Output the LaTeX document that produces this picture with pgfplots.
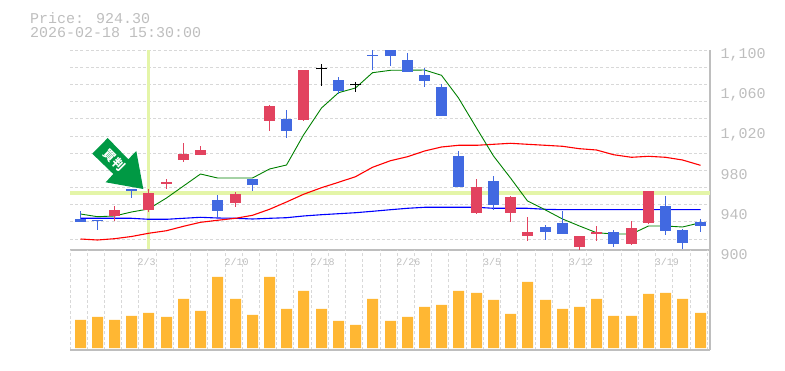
\documentclass[border=0pt]{standalone}
\usepackage{pgfplots}
\usepackage{pgfplotstable}
\usepackage{fontspec}
\pgfplotsset{compat=1.18}
\setmainfont{Liberation Mono}
\newfontfamily\cjk{Noto Sans CJK JP}
\definecolor{gridc}{HTML}{D8D8D8}
\definecolor{framec}{HTML}{BEBEBE}
\definecolor{txtc}{HTML}{BEBEBE}
\definecolor{upc}{HTML}{E2435F}
\definecolor{downc}{HTML}{4169E1}
\definecolor{hilite}{HTML}{E4F5A8}
\definecolor{volc}{HTML}{FFB733}
\definecolor{arrowc}{HTML}{009944}
\pgfplotstableread{
x bh bl wh wl
114.5 940 934 944.3 929.3
148.5 957 940 961 938
166.5 968 966 971 961
183.5 996 990 1006.7 988
200.5 1000 995 1004 995
235.5 956 947 958 943
269.5 1044 1029 1045 1019
303.5 1080 1030 1080 1029
476.5 963 937 971 936
510.5 953 937 954 928
527.5 918 914 933 909
579.5 914 903 914 899
596.5 918 916 924 909
631.5 922 906 929 905
648.5 959 927 959 926
}\upcandles
\pgfplotstableread{
x bh bl wh wl
80.5 931.3 928 939.3 928
97.5 930.3 929.3 930 920
131.5 960.7 959.3 960.7 952
217.5 950 939 955 932
252.5 971 965 971 959
286.5 1031 1019 1040 1012
338.5 1070 1059 1073 1056
372.5 1095 1094 1100 1080
390.5 1100 1094 1100 1084
407.5 1090 1078 1097 1078
424.5 1075 1069 1082 1063
441.5 1063 1034 1066 1034
458.5 994 963 999 963
493.5 969 945 974 940
545.5 923 918 925 910
562.5 927 916 939 916
613.5 918 906 920 903
665.5 944 919 954 915
682.5 920 907 921 901
700.5 928 924.3 931 918
}\downcandles
\pgfplotstableread{
x bh bl wh wl
321.5 1081.5 1080.5 1086 1064
355.5 1065.5 1064.5 1068 1058
}\flatcandles
\pgfplotstableread{
x green red blue vol
80.5 936 911 931.7 28
97.5 933.3 910 931.7 31
114.5 934 911.3 931.7 28
131.5 938 913.5 931.7 32
148.5 941 916.7 930.7 35
166.5 952 919.3 930.7 31
183.5 964 923.7 931.7 49
200.5 976 927.7 932.7 37
217.5 972 929.7 932 71
235.5 972 931.7 931.7 49
252.5 972 934.7 931 33
269.5 981 940.7 931.7 71
286.5 985 948 932.3 39
303.5 1015 955.7 934 57
321.5 1042 962.3 935.3 39
338.5 1057.3 967.7 936.3 27
355.5 1062 973.3 937.3 23
372.5 1077.3 982.7 938.7 49
390.5 1079.7 989.3 940.3 27
407.5 1079.7 993.3 941.7 31
424.5 1080 999 942.7 41
441.5 1074.7 1003 942.7 43
458.5 1052 1004.7 942.7 57
476.5 1022 1004.7 942.7 55
493.5 994 1005.7 941.7 48
510.5 972 1006.7 941.7 34
527.5 949 1005.7 941.7 66
545.5 940 1004.7 940.7 48
562.5 931 1003.7 940.3 39
579.5 924 1001.3 940.3 41
596.5 917.3 1000 940.3 49
613.5 916 995.3 940.3 32
631.5 916 992.7 940.3 32
648.5 924 993.7 940.3 54
665.5 924 992.7 940.3 55
682.5 923 990 940.3 49
700.5 927.3 984.7 940.3 35
}\series
\newcommand{\xgrid}{70.5,87.5,104.5,121.5,138.5,156.5,173.5,190.5,207.5,225.5,242.5,259.5,276.5,293.5,311.5,328.5,345.5,362.5,380.5,397.5,414.5,431.5,448.5,466.5,483.5,500.5,517.5,535.5,552.5,569.5,586.5,603.5,621.5,638.5,655.5,672.5,690.5,707.5}
\pgfplotsset{
  chartbase/.style={
    scale only axis, width=640pt, xmin=70, xmax=710,
    axis x line*=bottom, axis y line*=right,
    axis line style={framec, line width=1.2pt, -},
    minor x tick style={draw=none}, major x tick style={draw=none},
    major y tick style={draw=none}, minor y tick style={draw=none},
    minor xtick/.expand once=\xgrid,
    xminorgrids=true,
    minor grid style={gridc, line width=1pt, dash pattern=on 3pt off 2.2pt},
    major grid style={draw=none},
    tick align=inside,
  },
  bodies/.style={draw=none, mark=none, forget plot,
    error bars/.cd, y dir=plus, y explicit, error mark=none,
    error bar style={line width=11pt, color=#1}},
  wicks/.style={draw=none, mark=none, forget plot,
    error bars/.cd, y dir=plus, y explicit, error mark=none,
    error bar style={line width=1.3pt, color=#1}},
}
\begin{document}
\begin{tikzpicture}[x=1pt,y=1pt]
\path[use as bounding box] (0,0) rectangle (785,370);
\node[anchor=west,inner sep=0pt,text=txtc,font=\fontsize{15}{15}\selectfont] at (30,352) {Price: 924.30};
\node[anchor=west,inner sep=0pt,text=txtc,font=\fontsize{15}{15}\selectfont] at (30,337) {2026-02-18 15:30:00};

\begin{axis}[chartbase, name=price, at={(70pt,120pt)}, anchor=south west, height=200pt,
  ymin=900, ymax=1100,
  ytick={900,940,980,1020,1060,1100},
  yticklabels={900,940,980,{1,020},{1,060},{1,100}},
  xtick=\empty,
  minor ytick={910.5,928.5,945.5,962.5,979.5,996.5,1013.5,1031.5,1048.5,1065.5,1082.5,1099.5},
  yminorgrids=true,
  yticklabel style={anchor=west, yshift=-4.5pt, xshift=7pt, text=txtc, font=\fontsize{15}{15}\selectfont},
]
\addplot[hilite, line width=4pt, forget plot] coordinates {(70,956.7) (710,956.7)};
\addplot[hilite, line width=3pt, forget plot] coordinates {(148.5,901.3) (148.5,1100)};
\addplot[blue, line width=1.1pt, forget plot] table[x=x,y=blue]{\series};
\addplot[red, line width=1.1pt, forget plot] table[x=x,y=red]{\series};
\addplot[black!50!green, line width=0.9pt, forget plot] table[x=x,y=green]{\series};
\addplot[wicks=upc] table[x=x,y=wl,y error expr=\thisrow{wh}-\thisrow{wl}]{\upcandles};
\addplot[bodies=upc] table[x=x,y=bl,y error expr=\thisrow{bh}-\thisrow{bl}]{\upcandles};
\addplot[wicks=downc] table[x=x,y=wl,y error expr=\thisrow{wh}-\thisrow{wl}]{\downcandles};
\addplot[bodies=downc] table[x=x,y=bl,y error expr=\thisrow{bh}-\thisrow{bl}]{\downcandles};
\addplot[wicks=black] table[x=x,y=wl,y error expr=\thisrow{wh}-\thisrow{wl}]{\flatcandles};
\addplot[bodies=black] table[x=x,y=bl,y error expr=\thisrow{bh}-\thisrow{bl}]{\flatcandles};
\fill[arrowc] (axis cs:107.7,1012) -- (axis cs:92.3,996.3) -- (axis cs:113.3,976) -- (axis cs:105.7,967.7) -- (axis cs:143.3,961) -- (axis cs:136.3,999) -- (axis cs:128.3,990.7) -- cycle;
\node[text=white,rotate=-45,inner sep=0pt,font=\cjk\bfseries\fontsize{12}{12}\selectfont] at (axis cs:114.5,990) {買判};
\end{axis}

\begin{axis}[chartbase, name=vol, at={(70pt,20pt)}, anchor=south west, height=100pt,
  ymin=-2, ymax=98,
  ytick=\empty,
  xtick={146.7,236.7,322.7,408.3,492,580.8,666.8},
  xticklabels={2/3,2/10,2/18,2/26,3/5,3/12,3/19},
  xticklabel style={anchor=center, yshift=88pt, text=txtc, font=\fontsize{10}{10}\selectfont},
]
\addplot[ybar, bar width=11pt, bar shift=0pt, fill=volc, draw=none] table[x=x,y=vol]{\series};
\end{axis}
\end{tikzpicture}
\end{document}
